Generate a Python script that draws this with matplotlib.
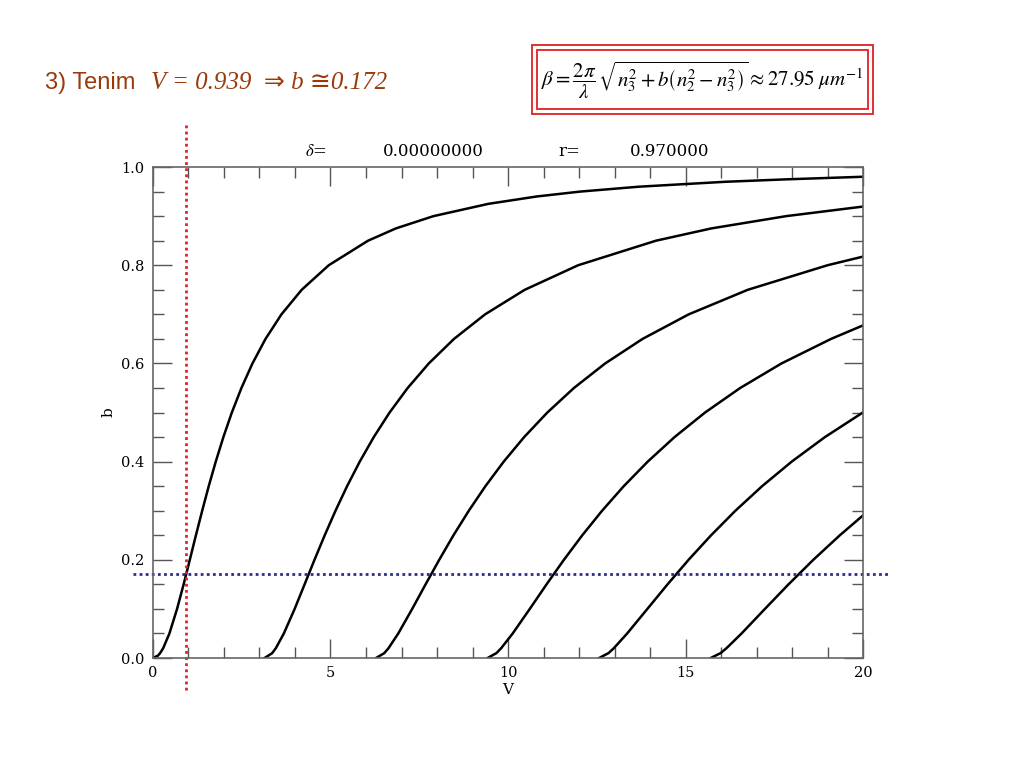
import matplotlib.pyplot as plt
from matplotlib.patches import Rectangle
from matplotlib.ticker import MultipleLocator

# modes: (V, b) pairs
mode0_V = [0.0, 0.142, 0.201, 0.287, 0.463, 0.678, 0.863, 1.037, 1.209, 1.386, 1.570, 1.768, 1.983, 2.221, 2.491,
           2.802, 3.170, 3.619, 4.189, 4.951, 6.058, 6.842, 7.900, 9.445, 10.805, 12.032, 13.694, 16.127, 17.861, 20.0]
mode0_b = [0.0, 0.005, 0.01, 0.02, 0.05, 0.10, 0.15, 0.20, 0.25, 0.30, 0.35, 0.40, 0.45, 0.50, 0.55,
           0.60, 0.65, 0.70, 0.75, 0.80, 0.85, 0.875, 0.90, 0.925, 0.94, 0.95, 0.96, 0.97, 0.975, 0.9802]

mode1_V = [3.142, 3.359, 3.460, 3.686, 3.990, 4.270, 4.549, 4.837, 5.141, 5.467, 5.824, 6.219, 6.664, 7.174,
           7.769, 8.480, 9.355, 10.472, 11.976, 14.169, 15.728, 17.834, 20.0]
mode1_b = [0.0, 0.01, 0.02, 0.05, 0.10, 0.15, 0.20, 0.25, 0.30, 0.35, 0.40, 0.45, 0.50, 0.55,
           0.60, 0.65, 0.70, 0.75, 0.80, 0.85, 0.875, 0.90, 0.9195]

mode2_V = [6.283, 6.516, 6.634, 6.909, 7.301, 7.678, 8.062, 8.464, 8.896, 9.364, 9.879, 10.455, 11.107, 11.857,
           12.737, 13.791, 15.091, 16.755, 19.001, 20.0]
mode2_b = [0.0, 0.01, 0.02, 0.05, 0.10, 0.15, 0.20, 0.25, 0.30, 0.35, 0.40, 0.45, 0.50, 0.55,
           0.60, 0.65, 0.70, 0.75, 0.80, 0.8176]

mode3_V = [9.425, 9.674, 9.807, 10.132, 10.613, 11.085, 11.574, 12.092, 12.650, 13.260, 13.935, 14.691, 15.550,
           16.540, 17.704, 19.101, 20.0]
mode3_b = [0.0, 0.01, 0.02, 0.05, 0.10, 0.15, 0.20, 0.25, 0.30, 0.35, 0.40, 0.45, 0.50,
           0.55, 0.60, 0.65, 0.6775]

mode4_V = [12.566, 12.831, 12.981, 13.356, 13.925, 14.493, 15.086, 15.720, 16.405, 17.157, 17.991, 18.927, 19.993]
mode4_b = [0.0, 0.01, 0.02, 0.05, 0.10, 0.15, 0.20, 0.25, 0.30, 0.35, 0.40, 0.45, 0.50]

mode5_V = [15.708, 15.988, 16.154, 16.579, 17.236, 17.901, 18.599, 19.347, 19.992]
mode5_b = [0.0, 0.01, 0.02, 0.05, 0.10, 0.15, 0.20, 0.25, 0.29]

V_sel = 0.939
b_sel = 0.172

plt.rcParams['mathtext.fontset'] = 'stix'

fig = plt.figure(figsize=(10.24, 7.68), dpi=100)
ax = fig.add_axes([0.1494, 0.1432, 0.6934, 0.6393])

for Vs, bs in [(mode0_V, mode0_b), (mode1_V, mode1_b), (mode2_V, mode2_b),
               (mode3_V, mode3_b), (mode4_V, mode4_b), (mode5_V, mode5_b)]:
    ax.plot(Vs, bs, color='black', lw=1.8)

ax.set_xlim(0, 20)
ax.set_ylim(0, 1.0)

# selection lines (extend past the frame)
ax.axvline(V_sel, ymin=-0.065, ymax=1.086, color='#e0202a', ls=(0, (1, 1.2)), lw=2, clip_on=False)
ax.axhline(b_sel, xmin=-0.028, xmax=1.038, color='#2b2b90', ls=(0, (1, 1.2)), lw=2, clip_on=False)

serif = ['DejaVu Serif']
ax.xaxis.set_major_locator(MultipleLocator(5))
ax.xaxis.set_minor_locator(MultipleLocator(1))
ax.yaxis.set_major_locator(MultipleLocator(0.2))
ax.yaxis.set_minor_locator(MultipleLocator(0.05))
ax.yaxis.set_major_formatter(plt.FormatStrFormatter('%.1f'))
ax.tick_params(which='both', direction='in', top=True, right=True, color='#555555')
ax.tick_params(which='major', length=14, width=1, labelsize=10.5, pad=6)
ax.tick_params(which='minor', length=8, width=1)
for lab in ax.get_xticklabels() + ax.get_yticklabels():
    lab.set_family(serif)
for s in ax.spines.values():
    s.set_color('#666666')
    s.set_linewidth(1.2)

ax.set_xlabel('V', family=serif, fontsize=11, labelpad=2)
ax.set_ylabel('b', family=serif, fontsize=11, labelpad=4)

# header line above the plot
hy = 1 - 152 / 768
fig.text(305 / 1024, hy, r'$\delta$=', family=serif, fontsize=12, va='center')
fig.text(383 / 1024, hy, '0.00000000', family=serif, fontsize=12, va='center')
fig.text(558 / 1024, hy, 'r=', family=serif, fontsize=12, va='center')
fig.text(630 / 1024, hy, '0.970000', family=serif, fontsize=12, va='center')

# slide title
brown = '#9a3a0c'
fig.text(45 / 1024, 1 - 83 / 768, '3) Tenim', family=['Liberation Sans', 'DejaVu Sans'],
         fontsize=17, color=brown, va='center')
fig.text(151 / 1024, 1 - 83 / 768, 'V = 0.939  \u21d2 b \u22450.172',
         family=['Liberation Serif', 'STIXGeneral', 'DejaVu Sans'], style='italic',
         fontsize=18, color=brown, va='center')

# boxed formula
for x0, y0, w, h in [(532, 45, 341, 69), (537, 50, 331, 59)]:
    fig.patches.append(Rectangle((x0 / 1024, 1 - (y0 + h) / 768), w / 1024, h / 768,
                                 transform=fig.transFigure, fill=False, edgecolor='#e02020', lw=1.3))
fig.text(702 / 1024, 1 - 80 / 768,
         r'$\beta = \dfrac{2\pi}{\lambda}\,\sqrt{n_3^2 + b\left(n_2^2 - n_3^2\right)} \approx 27.95\;\mu m^{-1}$',
         fontsize=15, ha='center', va='center', color='black')

fig.savefig('out.png', dpi=100)
